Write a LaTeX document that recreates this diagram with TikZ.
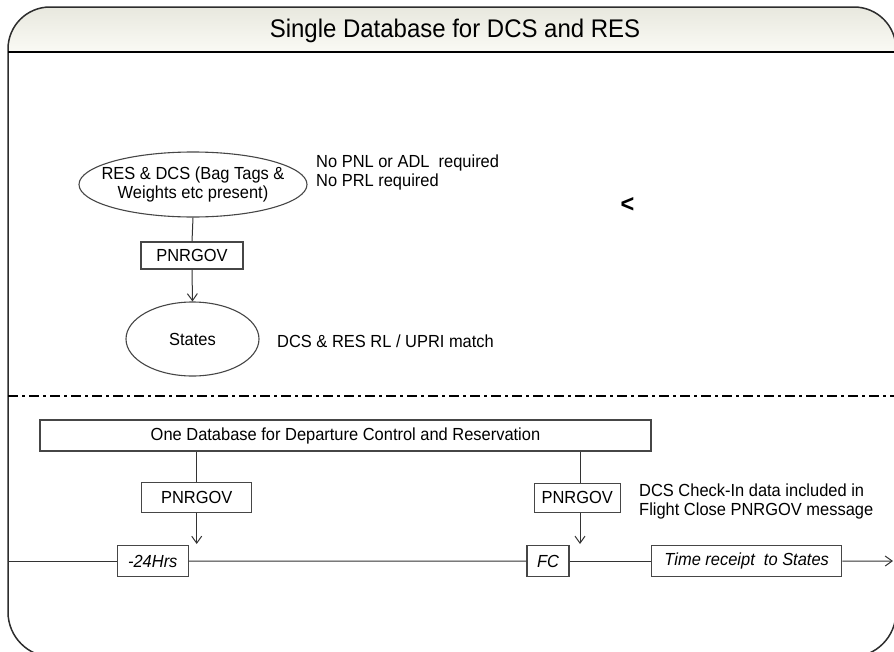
\documentclass[tikz,border=0pt]{standalone}
\usepackage{fontspec}
\setmainfont[FakeStretch=0.94]{Liberation Sans}
\usetikzlibrary{shapes.geometric,arrows.meta}
\definecolor{hdrtop}{RGB}{232,232,222}
\definecolor{hdrbot}{RGB}{250,250,245}
\definecolor{framec}{RGB}{45,45,45}
\definecolor{boxc}{RGB}{70,70,70}
\tikzset{
  bodyfont/.style={font=\fontsize{17.5}{19.5}\selectfont},
  stepbox/.style={draw=boxc, line width=1.1pt, rectangle, inner sep=0pt, bodyfont},
  ell/.style={draw=boxc, line width=1.1pt, ellipse, inner sep=0pt, bodyfont},
  conn/.style={draw=black!80, line width=1pt},
  arr/.style={conn, -{Straight Barb[length=7pt,width=10pt]}},
  note/.style={inner sep=0pt, bodyfont, align=left},
  itbox/.style={stepbox, font=\fontsize{17.5}{19.5}\selectfont\itshape},
}
\begin{document}
\begin{tikzpicture}[x=1pt,y=-1pt]
\useasboundingbox (0,0) rectangle (894,651);
% header shading
\shade[top color=hdrtop, bottom color=hdrbot]
  (8,52) [rounded corners=42pt] -- (8,7) -- (896,7) [sharp corners] -- (896,52) -- cycle;
% frame
\draw[framec, line width=1.5pt]
  (8,300) [rounded corners=42pt] -- (8,7) -- (896,7) -- (896,300)
  [rounded corners=45pt] -- (896,657) -- (8,657) [sharp corners] -- cycle;
\coordinate (h0) at (8,52);
\coordinate (h1) at (896,52);
\draw[black, line width=1.5pt] (h0) -- (h1);
\node[anchor=base, inner sep=0pt, font=\fontsize{25.5}{28}\selectfont] (title) at (455,37) {Single Database for DCS and RES};

% upper part
\node[ell, minimum width=228pt, minimum height=65pt] (e1) at (193,184.5) {};
\node[note, align=center] (e1t) at (e1.center) {RES \& DCS (Bag Tags \&\\Weights etc present)};
\node[stepbox, minimum width=102pt, minimum height=27pt] (p1) at (192,255.5) {PNRGOV};
\node[ell, minimum width=133pt, minimum height=74pt] (st) at (192.5,339) {States};
\draw[conn] (e1.south) -- (p1.north);
\draw[arr] (p1.south) -- (st.north);
\node[note, anchor=north west] (n1) at (316,154.5) {No PNL or ADL\ \ required\\No PRL required};
\node[note, anchor=base west] (n2) at (277,347) {DCS \& RES RL / UPRI match};
\node[inner sep=0pt, font=\fontsize{25}{28}\selectfont\bfseries] (lt) at (627.5,205) {<};

% divider
\coordinate (d0) at (8,396);
\coordinate (d1) at (894,396);
\draw[black, line width=1.8pt, dash pattern=on 10pt off 4pt on 3pt off 4pt] (d0) -- (d1);

% lower part
\node[stepbox, minimum width=611pt, minimum height=31pt] (db) at (345.5,435.5) {One Database for Departure Control and Reservation};
\node[stepbox, minimum width=110pt, minimum height=29.5pt] (p2) at (196.7,497.5) {PNRGOV};
\node[stepbox, minimum width=86pt, minimum height=29pt] (p3) at (577.2,497.8) {PNRGOV};
\node[itbox, minimum width=71pt, minimum height=30.5pt] (h24) at (152.8,561) {-24Hrs};
\node[itbox, minimum width=42pt, minimum height=31pt] (fc) at (548,561.2) {FC};
\node[itbox, minimum width=190pt, minimum height=31pt] (tr) at (746.7,561.2) {Time receipt\ \ to States};
\node[note, anchor=north west, font=\fontsize{17.5}{18.5}\selectfont] (n3) at (639,484) {DCS Check-In data included in\\Flight Close PNRGOV message};

\coordinate (a2) at (196.7,544);
\coordinate (a3) at (580,544);
\draw[conn] (p2.north |- db.south) -- (p2.north);
\draw[arr] (p2.south) -- (a2);
\draw[conn] (a3 |- db.south) -- (a3 |- p3.north);
\draw[arr] (a3 |- p3.south) -- (a3);

\coordinate (t0) at (8,561);
\coordinate (t1) at (893,561);
\draw[conn] (t0) -- (h24.west);
\draw[conn] (h24.east) -- (fc.west);
\draw[conn] (fc.east) -- (tr.west);
\draw[arr] (tr.east) -- (t1);
\end{tikzpicture}
\end{document}
